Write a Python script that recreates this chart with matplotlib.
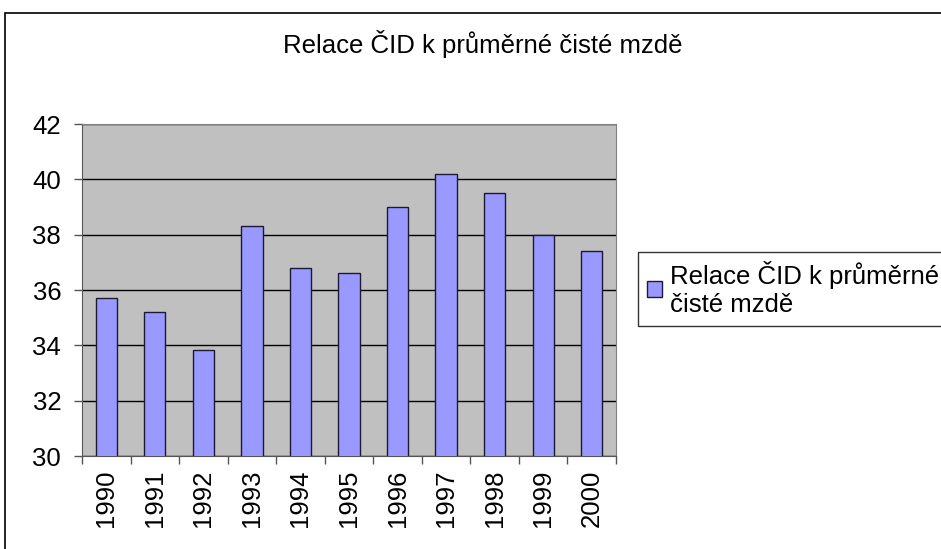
import matplotlib.pyplot as plt
from matplotlib.patches import Rectangle

plt.rcParams['font.family'] = ['Liberation Sans', 'DejaVu Sans']

# data
years = ['1990', '1991', '1992', '1993', '1994', '1995', '1996', '1997', '1998', '1999', '2000']
relace = [35.7, 35.2, 33.83, 38.3, 36.8, 36.6, 39.0, 40.2, 39.5, 38.0, 37.4]
title = 'Relace ČID k průměrné čisté mzdě'
series_name = 'Relace ČID k průměrné\nčisté mzdě'

fs = 18.5

fig = plt.figure(figsize=(9.41, 5.49), dpi=100)

# outer chart frame (runs off the right and bottom edges)
fig.patches.append(Rectangle((5 / 941, -0.05), 1.0, 1 - 13 / 549 + 0.05,
                             transform=fig.transFigure, fill=False,
                             edgecolor='black', linewidth=1.2))

ax = fig.add_axes([82 / 941, 1 - 456 / 549, 534 / 941, 332 / 549])
ax.set_facecolor('#c0c0c0')

x = range(len(years))
ax.bar(x, relace, width=0.44, color='#9999ff', edgecolor='#1a1a33',
       linewidth=1.0, label=series_name, zorder=3)

ax.set_ylim(30, 42)
ax.set_xlim(-0.5, len(years) - 0.5)
ax.set_yticks(range(30, 43, 2))
ax.yaxis.grid(True, color='black', linewidth=1.0, zorder=1)
ax.set_axisbelow(True)

# ticks between categories, labels centred under bars
ax.set_xticks([i - 0.5 for i in range(len(years) + 1)])
ax.set_xticklabels([])
ax.set_xticks(list(x), minor=True)
ax.set_xticklabels(years, minor=True, rotation=90, fontsize=fs)
ax.tick_params(axis='x', which='minor', length=0, pad=10)
ax.tick_params(axis='x', which='major', length=6, width=1, color='#555555', direction='out')
ax.tick_params(axis='y', length=6, width=1, color='#555555', labelsize=fs, pad=9)

for side in ['top', 'right']:
    ax.spines[side].set_color('#808080')
for side in ['left', 'bottom']:
    ax.spines[side].set_color('#555555')

fig.text(483 / 941, 1 - 44 / 549, title, ha='center', va='center', fontsize=fs)

leg = fig.legend(loc='upper left', bbox_to_anchor=(638 / 941, 1 - 252 / 549),
                 fontsize=fs, frameon=True, fancybox=False, edgecolor='black',
                 borderaxespad=0, handlelength=0.6, handleheight=0.6,
                 handletextpad=0.3, borderpad=0.35, labelspacing=0.2)
leg.get_frame().set_linewidth(1.0)

plt.savefig('out.png', dpi=100)
